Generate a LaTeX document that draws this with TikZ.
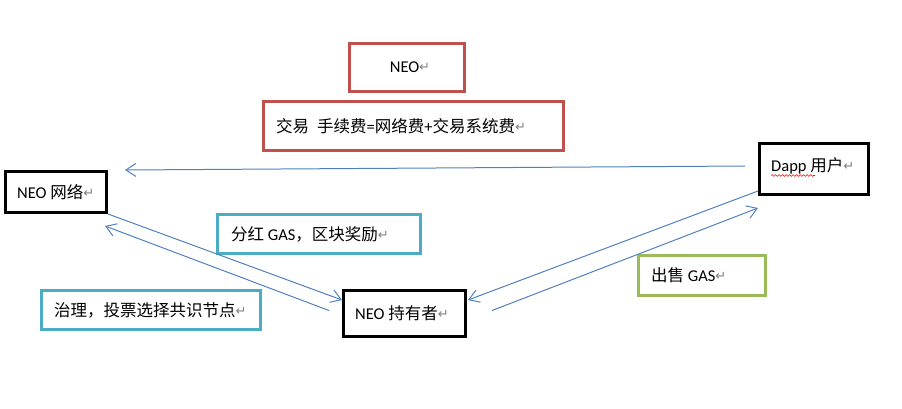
\documentclass[tikz,border=0pt]{standalone}
\usepackage{fontspec}
\setmainfont{Carlito}
\newfontfamily\cjk{Noto Sans CJK SC}
\newfontfamily\symf{DejaVu Sans}
\usetikzlibrary{arrows.meta,decorations.pathmorphing}
\definecolor{boxred}{HTML}{C0504D}
\definecolor{boxcyan}{HTML}{4BACC6}
\definecolor{boxgreen}{HTML}{9BBB59}
\definecolor{arrowblue}{HTML}{4F81BD}
\newcommand\cn[1]{{\cjk #1}}
\newcommand\pmk{{\symf\fontsize{13}{13}\selectfont\color{gray}\raisebox{1pt}{↵}}}
\tikzset{
  box/.style={draw, line width=3pt, rectangle, inner sep=0pt},
  redbox/.style={box, draw=boxred},
  cyanbox/.style={box, draw=boxcyan},
  greenbox/.style={box, draw=boxgreen},
  blackbox/.style={box, draw=black},
  lbl/.style={anchor=west, inner sep=0pt, font=\fontsize{16.5}{18}\selectfont},
  flow/.style={draw=arrowblue, line width=1pt, -{Straight Barb[length=10pt,width=13pt,line width=1pt]}}
}
\begin{document}
\begin{tikzpicture}[x=1pt,y=-1pt]
\useasboundingbox (0,0) rectangle (902,408);
% boxes
\node[redbox, minimum width=115pt, minimum height=48pt] (neo) at (407,67.5) {};
\node[redbox, minimum width=300pt, minimum height=49pt] (fee) at (413.5,126) {};
\node[blackbox, minimum width=101pt, minimum height=41pt] (net) at (56,192) {};
\node[blackbox, minimum width=109pt, minimum height=51pt] (dapp) at (814,169) {};
\node[cyanbox, minimum width=203pt, minimum height=39pt] (fh) at (319,234) {};
\node[cyanbox, minimum width=219pt, minimum height=39pt] (zl) at (151,310) {};
\node[blackbox, minimum width=122pt, minimum height=46pt] (holder) at (404.5,313.5) {};
\node[greenbox, minimum width=127pt, minimum height=40pt] (sell) at (702,275.5) {};
% labels
\node[lbl, anchor=center] (neoT) at ([xshift=3pt]neo.center) {NEO\pmk};
\node[lbl] (feeT) at ([xshift=14pt]fee.west) {\cn{交易}\hspace{8pt}\cn{手续费}=\cn{网络费}+\cn{交易系统费}\pmk};
\node[lbl] (netT) at ([xshift=13pt]net.west) {NEO \cn{网络}\pmk};
\node[lbl] (dappT) at ([xshift=13pt,yshift=3pt]dapp.west) {Dapp \cn{用户}\pmk};
\node[lbl] (fhT) at ([xshift=15pt]fh.west) {\cn{分红} GAS\cn{，区块奖励}\pmk};
\node[lbl] (zlT) at ([xshift=14pt]zl.west) {\cn{治理，投票选择共识节点}\pmk};
\node[lbl] (holderT) at ([xshift=13pt]holder.west) {NEO \cn{持有者}\pmk};
\node[lbl] (sellT) at ([xshift=14pt]sell.west) {\cn{出售} GAS\pmk};
% spell-check squiggle under Dapp
\draw[red, line width=0.6pt, decorate, decoration={snake, amplitude=0.9pt, segment length=3.5pt}]
  ([yshift=-1pt]dappT.south west) -- ([xshift=44pt,yshift=-1pt]dappT.south west);
% connectors
\draw[flow] ([xshift=-13pt,yshift=3pt]dapp.west) -- ([xshift=17pt]net.north east);
\draw[flow] (net.south east) -- ([yshift=-11pt]holder.north west);
\draw[flow] ([xshift=-13pt,yshift=3pt]holder.west) -- ([xshift=-3pt,yshift=-12pt]net.south east);
\draw[flow] ([yshift=5pt]dapp.south west) -- ([xshift=1pt,yshift=-11pt]holder.north east);
\draw[flow] ([xshift=25pt,yshift=3pt]holder.east) -- ([yshift=-12pt]dapp.south west);
\end{tikzpicture}
\end{document}
